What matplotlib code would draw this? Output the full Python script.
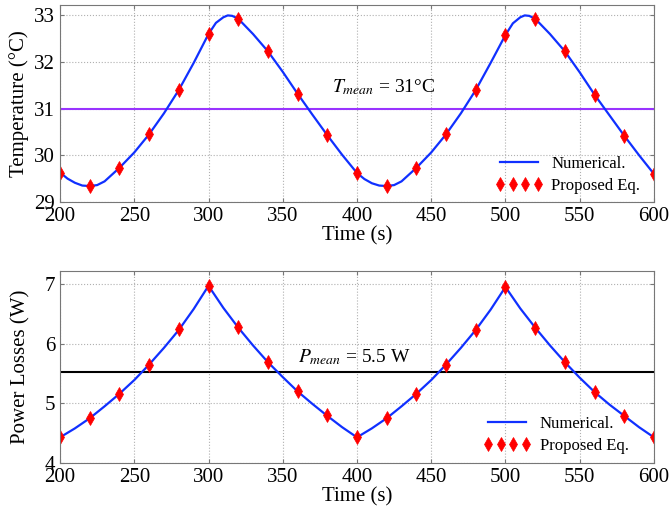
import matplotlib.pyplot as plt

plt.rcParams['font.family'] = ['Liberation Serif', 'DejaVu Serif']
plt.rcParams['mathtext.fontset'] = 'stix'

# numerical temperature curve
temp_t = [200, 205, 210, 215, 220, 225, 230, 240, 250, 260, 270, 280, 290, 300,
          305, 310, 313, 316, 320, 330, 340, 350, 360, 370, 380, 390, 400,
          405, 410, 415, 420, 425, 430, 440, 450, 460, 470, 480, 490, 500,
          505, 510, 513, 516, 520, 530, 540, 550, 560, 570, 580, 590, 600]
temp_num = [29.63, 29.50, 29.41, 29.35, 29.34, 29.36, 29.44, 29.73, 30.06, 30.45, 30.90, 31.40, 31.98, 32.60,
            32.84, 32.96, 33.00, 32.99, 32.93, 32.60, 32.23, 31.79, 31.32, 30.87, 30.43, 30.01, 29.62,
            29.49, 29.40, 29.35, 29.34, 29.36, 29.44, 29.73, 30.06, 30.45, 30.90, 31.40, 31.98, 32.58,
            32.83, 32.96, 33.00, 32.99, 32.93, 32.60, 32.23, 31.78, 31.30, 30.86, 30.42, 30.00, 29.60]

# proposed equation points
eq_t = [200, 220, 240, 260, 280, 300, 320, 340, 360, 380, 400,
        420, 440, 460, 480, 500, 520, 540, 560, 580, 600]
temp_eq = [29.63, 29.35, 29.73, 30.45, 31.40, 32.60, 32.92, 32.23, 31.32, 30.43, 29.62,
           29.35, 29.73, 30.45, 31.40, 32.58, 32.92, 32.23, 31.30, 30.42, 29.60]

# numerical power losses curve
pow_t = [200, 210, 220, 230, 240, 250, 260, 270, 280, 290, 300,
         310, 320, 330, 340, 350, 360, 370, 380, 390, 400,
         410, 420, 430, 440, 450, 460, 470, 480, 490, 500,
         510, 520, 530, 540, 550, 560, 570, 580, 590, 600]
pow_num = [4.43, 4.58, 4.75, 4.95, 5.16, 5.39, 5.65, 5.93, 6.23, 6.58, 6.97,
           6.60, 6.27, 5.97, 5.69, 5.44, 5.20, 4.99, 4.79, 4.60, 4.43,
           4.58, 4.75, 4.95, 5.16, 5.39, 5.65, 5.93, 6.23, 6.57, 6.95,
           6.59, 6.27, 5.97, 5.69, 5.43, 5.19, 4.98, 4.79, 4.60, 4.43]
pow_eq = [4.44, 4.75, 5.16, 5.65, 6.24, 6.97, 6.28, 5.69, 5.21, 4.80, 4.43,
          4.75, 5.16, 5.65, 6.23, 6.95, 6.27, 5.69, 5.19, 4.79, 4.43]

T_mean = 31
P_mean = 5.52

blue = '#1030ff'
fig = plt.figure(figsize=(6.7, 5.15), dpi=100)
ax1 = fig.add_axes([0.0896, 0.608, 0.8864, 0.382])
ax2 = fig.add_axes([0.0896, 0.101, 0.8864, 0.373])

for ax in (ax1, ax2):
    ax.grid(True, linestyle=':', color='#b0b0b0', linewidth=0.8)
    ax.tick_params(direction='in', top=True, right=True, labelsize=15, length=3, color='#777777')
    ax.set_xlim(200, 600)
    ax.set_xticks(range(200, 601, 50))
    for s in ax.spines.values():
        s.set_color('#777777')
    ax.set_xlabel('Time (s)', fontsize=15, labelpad=0)

ax1.axhline(T_mean, color='#9933ff', linewidth=1.5)
ax1.plot(temp_t, temp_num, color=blue, linewidth=1.6, label='Numerical.')
ax1.plot(eq_t, temp_eq, 'd', color='red', markersize=7, markeredgewidth=0.5, label='Proposed Eq.')
ax1.set_ylim(29, 33.22)
ax1.set_yticks([29, 30, 31, 32, 33])
ax1.set_ylabel('Temperature (°C)', fontsize=15, labelpad=4)
ax1.text(383, 31.36, r'$T_{mean}$ = 31°C', fontsize=14)
ax1.legend(loc='lower left', bbox_to_anchor=(0.732, 0.04), frameon=False, numpoints=4, fontsize=12,
           handlelength=2.9, handletextpad=0.5, labelspacing=0.35, borderpad=0, borderaxespad=0)

ax2.axhline(P_mean, color='black', linewidth=1.5)
ax2.plot(pow_t, pow_num, color=blue, linewidth=1.6, label='Numerical.')
ax2.plot(eq_t, pow_eq, 'd', color='red', markersize=7, markeredgewidth=0.5, label='Proposed Eq.')
ax2.set_ylim(4, 7.22)
ax2.set_yticks([4, 5, 6, 7])
ax2.set_ylabel('Power Losses (W)', fontsize=15, labelpad=10)
ax2.text(360, 5.68, r'$P_{mean}$ = 5.5 W', fontsize=14)
ax2.legend(loc='lower left', bbox_to_anchor=(0.712, 0.047), frameon=False, numpoints=4, fontsize=12,
           handlelength=2.9, handletextpad=0.5, labelspacing=0.35, borderpad=0, borderaxespad=0)

fig.savefig('out.png', dpi=100)
